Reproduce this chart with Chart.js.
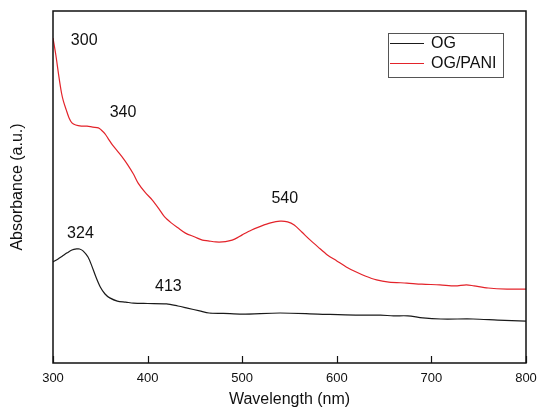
<!DOCTYPE html>
<html lang="en">
<head>
    <meta charset="UTF-8">
    <title>UV-Vis Absorbance OG vs OG/PANI</title>
    <script src="https://cdn.jsdelivr.net/npm/chart.js@4.4.1/dist/chart.umd.min.js"></script>
    <style>
        body { margin: 0; background: #fff; }
        #wrap { width: 538px; height: 411px; }
    </style>
</head>
<body>
<div id="wrap"><canvas id="myChart" width="538" height="411"></canvas></div>

<script>
    // OG/PANI curve (wavelength nm, absorbance a.u.)
    var paniX = [300, 303, 306, 309, 311, 314, 317, 320, 324, 330, 336, 342, 348, 351, 355, 358, 363, 369, 374, 379,
                 385, 390, 397, 405, 412, 418, 425, 432, 440, 450, 458, 464, 472, 479, 486, 492, 500, 510, 520, 530,
                 540, 548, 555, 563, 572, 580, 590, 600, 610, 620, 630, 642, 655, 674, 690, 709, 725, 737, 745, 760,
                 780, 800];
    var paniY = [0.923, 0.875, 0.818, 0.767, 0.744, 0.719, 0.696, 0.682, 0.676, 0.673, 0.673, 0.670, 0.668, 0.662, 0.651, 0.639, 0.619, 0.599, 0.582, 0.563,
                 0.537, 0.511, 0.486, 0.463, 0.438, 0.415, 0.398, 0.384, 0.369, 0.358, 0.349, 0.347, 0.344, 0.344, 0.347, 0.352, 0.364, 0.378, 0.389, 0.398,
                 0.403, 0.401, 0.392, 0.372, 0.349, 0.330, 0.307, 0.290, 0.273, 0.259, 0.247, 0.236, 0.230, 0.227, 0.224, 0.222, 0.219, 0.222, 0.219, 0.213,
                 0.210, 0.210];

    // OG curve
    var ogX = [300, 305, 310, 315, 320, 325, 328, 332, 337, 341, 345, 350, 355, 360, 368, 377, 385, 400, 420, 432,
               442, 455, 465, 480, 500, 540, 580, 620, 646, 660, 675, 691, 710, 744, 770, 800];
    var ogY = [0.287, 0.295, 0.304, 0.313, 0.321, 0.324, 0.324, 0.318, 0.301, 0.276, 0.247, 0.216, 0.196, 0.185, 0.176, 0.173, 0.170, 0.169, 0.168, 0.162,
               0.156, 0.148, 0.142, 0.141, 0.139, 0.142, 0.139, 0.136, 0.136, 0.134, 0.134, 0.128, 0.125, 0.125, 0.122, 0.119];

    var xTicks = [300, 400, 500, 600, 700, 800];

    // peak labels
    var peakText = ["300", "340", "324", "413", "540"];
    var peakX = [333, 374, 329, 422, 545];
    var peakY = [0.915, 0.712, 0.367, 0.217, 0.466];

    var FONT = "'Liberation Sans', Arial, sans-serif";

    function toPoints(xs, ys) {
      return xs.map(function(x, i) { return { x: x, y: ys[i] }; });
    }

    var framePlugin = {
      id: 'frame',
      afterDraw: function(chart) {
        var ctx = chart.ctx;
        var a = chart.chartArea;
        var xs = chart.scales.x;
        var ys = chart.scales.y;
        ctx.save();

        // box around plot
        ctx.strokeStyle = '#111';
        ctx.lineWidth = 1.5;
        ctx.strokeRect(a.left, a.top, a.right - a.left, a.bottom - a.top);

        // inward ticks on the bottom axis
        ctx.lineWidth = 1.2;
        xTicks.forEach(function(v) {
          var px = Math.round(xs.getPixelForValue(v)) + 0.5;
          ctx.beginPath();
          ctx.moveTo(px, a.bottom);
          ctx.lineTo(px, a.bottom - 7);
          ctx.stroke();
        });

        // peak labels
        ctx.fillStyle = '#111';
        ctx.font = '16px ' + FONT;
        ctx.textAlign = 'center';
        ctx.textBaseline = 'middle';
        peakText.forEach(function(t, i) {
          ctx.fillText(t, xs.getPixelForValue(peakX[i]), ys.getPixelForValue(peakY[i]));
        });

        // legend box
        var lx = a.right - 138, ly = a.top + 22, lw = 115, lh = 44;
        ctx.strokeStyle = '#555';
        ctx.lineWidth = 1;
        ctx.strokeRect(lx + 0.5, ly + 0.5, lw, lh);
        ctx.textAlign = 'left';
        chart.data.datasets.forEach(function(ds, i) {
          var yy = ly + 10 + i * 20;
          ctx.strokeStyle = ds.borderColor;
          ctx.lineWidth = 1.2;
          ctx.beginPath();
          ctx.moveTo(lx + 2, yy + 0.5);
          ctx.lineTo(lx + 36, yy + 0.5);
          ctx.stroke();
          ctx.fillStyle = '#111';
          ctx.fillText(ds.label, lx + 43, yy + 1);
        });
        ctx.restore();
      }
    };

    var ctx = document.getElementById('myChart').getContext('2d');

    var myChart = new Chart(ctx, {
      type: 'line',
      data: {
        datasets: [{
          label: 'OG',
          data: toPoints(ogX, ogY),
          borderColor: '#1a1a1a',
          borderWidth: 1.2,
          pointRadius: 0,
          tension: 0.3,
          fill: false
        }, {
          label: 'OG/PANI',
          data: toPoints(paniX, paniY),
          borderColor: '#e3232a',
          borderWidth: 1.2,
          pointRadius: 0,
          tension: 0.3,
          fill: false
        }]
      },
      options: {
        responsive: false,
        animation: false,
        layout: { padding: { top: 11, right: 12, left: 0, bottom: 0 } },
        plugins: {
          legend: { display: false },
          tooltip: { enabled: false }
        },
        scales: {
          x: {
            type: 'linear',
            min: 300,
            max: 800,
            grid: { display: false, drawTicks: false },
            border: { display: false },
            afterBuildTicks: function(scale) {
              scale.ticks = xTicks.map(function(v) { return { value: v }; });
            },
            afterFit: function(scale) {
              scale.height = 48;
              scale.paddingLeft = 0;
              scale.paddingRight = 0;
            },
            ticks: {
              padding: 8,
              color: '#111',
              font: { family: FONT, size: 13 },
              maxRotation: 0
            },
            title: {
              display: true,
              text: 'Wavelength (nm)',
              color: '#111',
              font: { family: FONT, size: 16 },
              padding: { top: 0, bottom: 2 }
            }
          },
          y: {
            min: 0,
            max: 1,
            grid: { display: false, drawTicks: false },
            border: { display: false },
            ticks: { display: false },
            afterFit: function(scale) { scale.width = 53; },
            title: {
              display: true,
              text: 'Absorbance (a.u.)',
              color: '#111',
              font: { family: FONT, size: 16 },
              padding: { top: 8, bottom: 0 }
            }
          }
        }
      },
      plugins: [framePlugin]
    });
</script>
</body>
</html>
